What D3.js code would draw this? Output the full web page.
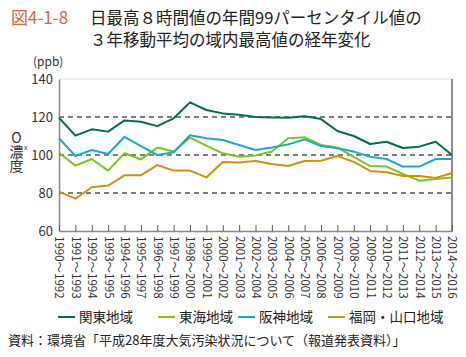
<!DOCTYPE html>
<html><head><meta charset="utf-8">
<script src="https://cdn.jsdelivr.net/npm/d3@7"></script>
<style>
body{margin:0;background:#fff;}
svg{display:block;font-family:"Noto Sans CJK JP","Noto Sans",sans-serif;}
</style></head>
<body><svg id="c" width="466" height="357"></svg>
<script>
const categories = ["1990〜1992","1991〜1993","1992〜1994","1993〜1995","1994〜1996","1995〜1997","1996〜1998","1997〜1999","1998〜2000","1999〜2001","2000〜2002","2001〜2003","2002〜2004","2003〜2005","2004〜2006","2005〜2007","2006〜2008","2007〜2009","2008〜2010","2009〜2011","2010〜2012","2011〜2013","2012〜2014","2013〜2015","2014〜2016"];
const kanto   = [119.6,110.2,113.5,112.3,118.2,117.5,115.2,119.3,127.7,123.7,121.9,121.2,120,119.8,119.6,120.4,118.9,112.6,110,105.8,107,103.7,104.4,107,100];
const tokai   = [101.2,94.4,97.9,91.8,100.9,97.7,103.9,101.8,109.1,104.9,100.9,99.1,99.8,101.8,108.8,109.3,105.3,104,99,94.2,93.9,90,86.5,87.4,88.2];
const hanshin = [108.8,99.5,102.6,100.5,109.6,104.7,100,101.4,110.4,108.8,107.9,105.3,102.6,104,105.6,108.2,104.7,103.5,101.8,99.1,97.9,93.9,93.9,97.9,97.9];
const fukuoka = [80.7,77,83,83.9,89.3,89.3,94.7,91.8,91.8,88.2,96.3,96.1,96.8,95.3,94.2,96.8,97,99.5,96.4,91.6,90.9,88.9,88.9,87.9,90.5];
const seriesNames = ["関東地域","東海地域","阪神地域","福岡・山口地域"];
const yTicks = [60,80,100,120,140];
const gridValues = [80,100,120];

const colors = ["#00704a","#7cc520","#1ca8d0","#d4900c"];
const seriesData = [kanto,tokai,hanshin,fukuoka];

const svg = d3.select("#c");
const L=59, R=452, T=79, B=231;
const x = d3.scalePoint().domain(categories).range([L,R]);
const y = d3.scaleLinear().domain([60,140]).range([B,T]);

// title
svg.append("text").attr("x",11).attr("y",24).attr("font-size",17).attr("fill","#e0653a").text("図4-1-8");
svg.append("text").attr("x",90).attr("y",24).attr("font-size",16.5).attr("fill","#222").text("日最高８時間値の年間99パーセンタイル値の");
svg.append("text").attr("x",90).attr("y",46).attr("font-size",16.5).attr("fill","#222").text("３年移動平均の域内最高値の経年変化");

// top frame line
svg.append("line").attr("x1",L).attr("x2",R).attr("y1",T).attr("y2",T).attr("stroke","#ddd").attr("stroke-width",1);
// gridlines
svg.append("g").selectAll("line").data(gridValues).join("line")
  .attr("x1",L).attr("x2",R).attr("y1",d=>y(d)).attr("y2",d=>y(d))
  .attr("stroke","#555").attr("stroke-width",1.6).attr("stroke-dasharray","5,4");

// y axis
const ya = svg.append("g").attr("transform",`translate(${L},0)`)
  .call(d3.axisLeft(y).tickValues(yTicks).tickSize(0).tickPadding(6));
ya.select(".domain").attr("stroke","#888").attr("stroke-width",1.5);
ya.selectAll("text").attr("font-size",13).attr("fill","#333").attr("font-family","Noto Sans CJK JP");

// x axis
const xa = svg.append("g").attr("transform",`translate(0,${B})`)
  .call(d3.axisBottom(x).tickSize(-6).tickSizeOuter(0).tickPadding(0));
xa.select(".domain").attr("stroke","#888").attr("stroke-width",1.5);
xa.selectAll(".tick line").attr("stroke","#555");
xa.selectAll("text").attr("font-size",11.5).attr("fill","#333").attr("font-family","Noto Sans CJK JP")
  .attr("transform","rotate(90)").attr("text-anchor","start").attr("dy","0.35em").attr("x",5).attr("y",0);

// right frame line
svg.append("line").attr("x1",R).attr("x2",R).attr("y1",T).attr("y2",B).attr("stroke","#666").attr("stroke-width",1.5);

// series lines
const line = d3.line().x((d,i)=>x(categories[i])).y(d=>y(d));
svg.append("g").selectAll("path").data(seriesData).join("path")
  .attr("d",d=>line(d)).attr("fill","none")
  .attr("stroke",(d,i)=>colors[i]).attr("stroke-width",2).attr("stroke-linejoin","round");

// y unit and label
svg.append("text").attr("x",33).attr("y",66).attr("font-size",12).attr("fill","#333").text("(ppb)");
svg.append("text").attr("x",16.5).attr("y",131).attr("font-size",14).attr("fill","#333")
  .attr("dominant-baseline","central")
  .style("writing-mode","vertical-rl").style("text-orientation","upright").text("O濃度");
svg.append("text").attr("x",24).attr("y",150).attr("font-size",7).attr("fill","#333").text("x");

// legend
const legX = [58,158,238,328];
const lg = svg.append("g").selectAll("g").data(seriesNames).join("g")
  .attr("transform",(d,i)=>`translate(${legX[i]},317)`);
lg.append("line").attr("x1",0).attr("x2",17).attr("y1",0).attr("y2",0).attr("stroke",(d,i)=>colors[i]).attr("stroke-width",2);
lg.append("text").attr("x",21).attr("y",5).attr("font-size",13.5).attr("fill","#222").text(d=>d);

// source
svg.append("text").attr("x",8).attr("y",345).attr("font-size",13).attr("fill","#222").text("資料：環境省「平成28年度大気汚染状況について（報道発表資料）」");
</script></body></html>
